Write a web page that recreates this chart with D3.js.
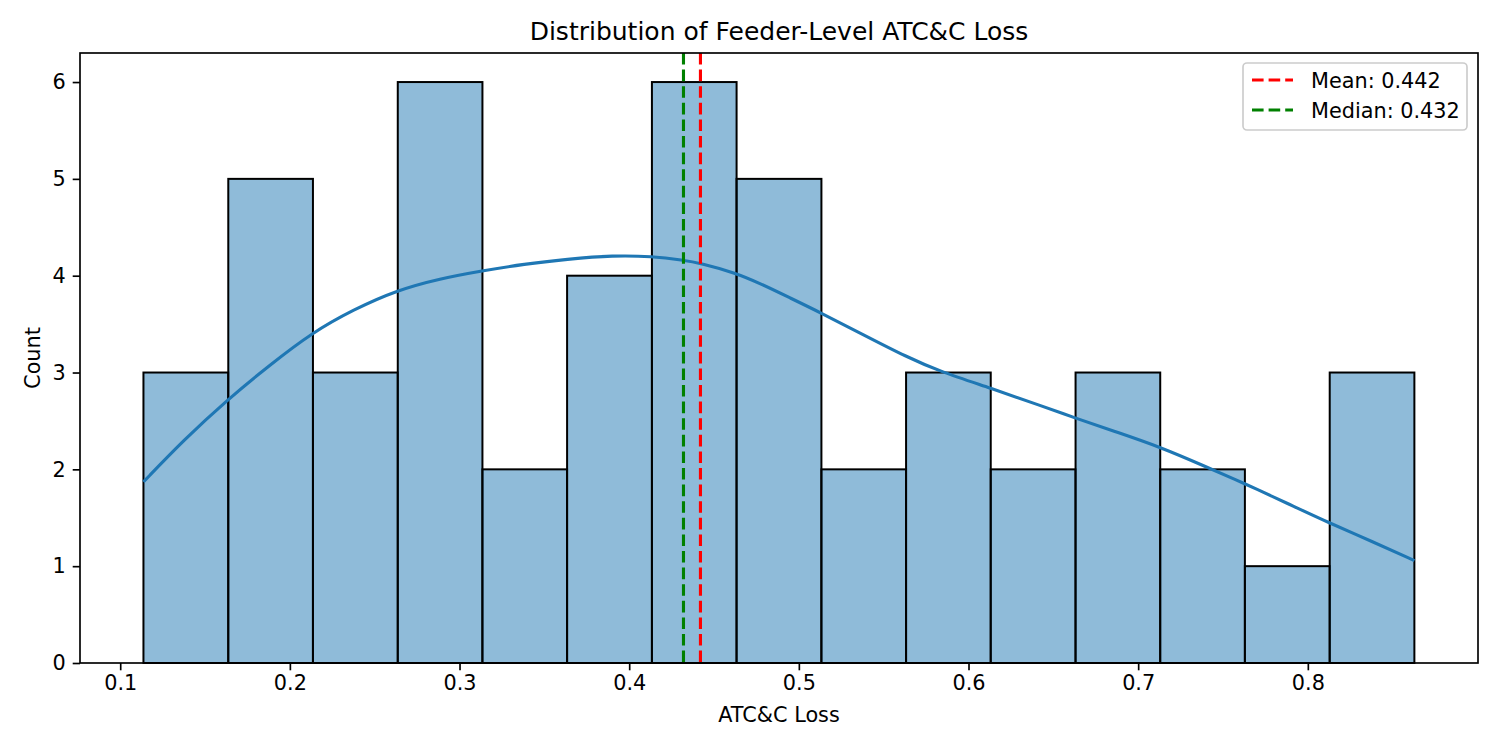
<!DOCTYPE html>
<html>
<head>
<meta charset="utf-8">
<script src="https://cdn.jsdelivr.net/npm/d3@7"></script>
<style>
  body { margin: 0; background: #fff; }
  svg text { font-family: "DejaVu Sans", sans-serif; fill: #000; }
</style>
</head>
<body>
<div id="node"></div>
<script>
// histogram bins (edges) and counts
const binEdges = [0.1137, 0.1637, 0.2136, 0.2636, 0.3135, 0.3634, 0.4134, 0.4633,
                  0.5133, 0.5632, 0.6131, 0.6631, 0.7130, 0.7629, 0.8129, 0.8628];
const counts = [3, 5, 3, 6, 2, 4, 6, 5, 2, 3, 2, 3, 2, 1, 3];

// kde curve, in count units
const kdeX = [0.1137, 0.1373, 0.1632, 0.1884, 0.2130, 0.2375, 0.2631, 0.2886, 0.3132,
              0.3381, 0.3633, 0.3907, 0.4134, 0.4320, 0.4418, 0.4625, 0.4772, 0.4949,
              0.5126, 0.5381, 0.5637, 0.5833, 0.6128, 0.6422, 0.6629, 0.6882, 0.7130,
              0.7383, 0.7631, 0.7878, 0.8121, 0.8379, 0.8628];
const kdeY = [1.87, 2.30, 2.72, 3.08, 3.41, 3.65, 3.85, 3.97, 4.05,
              4.12, 4.17, 4.21, 4.20, 4.16, 4.13, 4.03, 3.92, 3.77,
              3.62, 3.39, 3.16, 3.01, 2.84, 2.66, 2.53, 2.38, 2.23,
              2.04, 1.85, 1.65, 1.45, 1.255, 1.057];

const meanVal = 0.442;
const medianVal = 0.432;
const xTicks = [0.1, 0.2, 0.3, 0.4, 0.5, 0.6, 0.7, 0.8];
const yTicks = [0, 1, 2, 3, 4, 5, 6];

const W = 1500, H = 750;
const margin = { top: 53, right: 22, bottom: 87, left: 80 };
const width = W - margin.left - margin.right;
const height = H - margin.top - margin.bottom;

const svg = d3.select("#node").append("svg")
    .attr("width", W).attr("height", H);

const g = svg.append("g")
    .attr("transform", "translate(" + margin.left + "," + margin.top + ")");

const x = d3.scaleLinear().domain([0.0763, 0.9003]).range([0, width]);
const y = d3.scaleLinear().domain([0, 6.3]).range([height, 0]);

// bars
g.append("g").selectAll("rect")
    .data(counts)
    .enter().append("rect")
    .attr("x", (d, i) => x(binEdges[i]))
    .attr("width", (d, i) => x(binEdges[i + 1]) - x(binEdges[i]))
    .attr("y", d => y(d))
    .attr("height", d => y(0) - y(d))
    .attr("fill", "#1f77b4").attr("fill-opacity", 0.5)
    .attr("stroke", "#000").attr("stroke-width", 2);

// kde
const kdeLine = d3.line()
    .x(d => x(d[0])).y(d => y(d[1]))
    .curve(d3.curveBasis);
g.append("path")
    .datum(kdeX.map((v, i) => [v, kdeY[i]]))
    .attr("d", kdeLine)
    .attr("fill", "none")
    .attr("stroke", "#1f77b4")
    .attr("stroke-width", 3.1);

// mean / median lines
g.append("line")
    .attr("x1", x(meanVal)).attr("x2", x(meanVal))
    .attr("y1", 0).attr("y2", height)
    .attr("stroke", "red").attr("stroke-width", 3.1)
    .attr("stroke-dasharray", "11.6,5");
g.append("line")
    .attr("x1", x(medianVal)).attr("x2", x(medianVal))
    .attr("y1", 0).attr("y2", height)
    .attr("stroke", "green").attr("stroke-width", 3.1)
    .attr("stroke-dasharray", "11.6,5");

// axes
const xAxis = g.append("g")
    .attr("transform", "translate(0," + height + ")")
    .call(d3.axisBottom(x).tickValues(xTicks).tickFormat(d3.format(".1f"))
        .tickSizeInner(7.3).tickSizeOuter(0).tickPadding(5));
const yAxis = g.append("g")
    .call(d3.axisLeft(y).tickValues(yTicks).tickFormat(d3.format("d"))
        .tickSizeInner(7.3).tickSizeOuter(0).tickPadding(7));

[xAxis, yAxis].forEach(a => {
    a.select(".domain").remove();
    a.selectAll(".tick line").attr("stroke", "#000").attr("stroke-width", 1.67);
    a.selectAll(".tick text").style("font-size", "20.8px").attr("fill", "#000");
});

// frame
g.append("rect")
    .attr("x", 0).attr("y", 0).attr("width", width).attr("height", height)
    .attr("fill", "none").attr("stroke", "#000").attr("stroke-width", 1.67);

// title and axis labels
svg.append("text")
    .attr("x", margin.left + width / 2).attr("y", 40)
    .attr("text-anchor", "middle")
    .style("font-size", "25px")
    .text("Distribution of Feeder-Level ATC&C Loss");

svg.append("text")
    .attr("x", margin.left + width / 2).attr("y", 722)
    .attr("text-anchor", "middle")
    .style("font-size", "20.8px")
    .text("ATC&C Loss");

svg.append("text")
    .attr("transform", "translate(40," + (margin.top + height / 2) + ") rotate(-90)")
    .attr("text-anchor", "middle")
    .style("font-size", "20.8px")
    .text("Count");

// legend
const legendItems = [
    { label: "Mean: " + meanVal.toFixed(3), color: "red" },
    { label: "Median: " + medianVal.toFixed(3), color: "green" }
];
const legend = svg.append("g").attr("transform", "translate(1243,63)");
legend.append("rect")
    .attr("width", 224).attr("height", 67)
    .attr("rx", 4).attr("ry", 4)
    .attr("fill", "#fff").attr("fill-opacity", 0.8)
    .attr("stroke", "#ccc").attr("stroke-width", 1.67);
legendItems.forEach((item, i) => {
    const row = legend.append("g").attr("transform", "translate(0," + (17 + i * 30) + ")");
    row.append("line")
        .attr("x1", 9).attr("x2", 50)
        .attr("stroke", item.color).attr("stroke-width", 3.1)
        .attr("stroke-dasharray", "11.6,5");
    row.append("text")
        .attr("x", 68).attr("y", 7.5)
        .style("font-size", "20.8px")
        .text(item.label);
});
</script>
</body>
</html>
